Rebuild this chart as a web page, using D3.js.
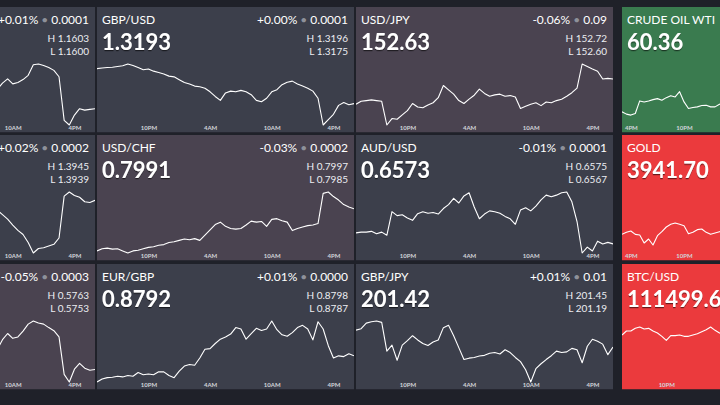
<!DOCTYPE html>
<html lang="en">
<head>
<meta charset="UTF-8" />
<title>Markets board</title>
<script src="https://d3js.org/d3.v7.min.js"></script>
<style>
  html, body { margin: 0; padding: 0; background: #1f2129; }
  svg { display: block; font-family: Lato, "Open Sans", sans-serif; }
  .sym { font-size: 12px; fill: #fff; }
  .price { font-size: 22px; font-weight: 700; fill: #fff; }
  .chg { font-size: 12px; fill: #fff; text-anchor: end; }
  .chg .dot { fill: #8e919a; }
  .hl { font-size: 10px; fill: #eceef2; text-anchor: end; }
  .axis text { font-family: Lato, sans-serif; font-size: 6px; font-weight: 700; fill: #d2d4da; }
</style>
</head>
<body>
<svg width="720" height="405"></svg>
<script>
// tiles, column by column (the left column is cut off by the window)
const symbols = ["EUR/USD", "USD/CAD", "NZD/USD", "GBP/USD", "USD/CHF", "EUR/GBP",
                 "USD/JPY", "AUD/USD", "GBP/JPY", "CRUDE OIL WTI", "GOLD", "BTC/USD"];
const lastPrices = [null, null, null, "1.3193", "0.7991", "0.8792",
                    "152.63", "0.6573", "201.42", "60.36", "3941.70", "111499.6"];
const changes = ["+0.01%", "+0.02%", "-0.05%", "+0.00%", "-0.03%", "+0.01%",
                 "-0.06%", "-0.01%", "+0.01%", null, null, null];
const changeAbs = ["0.0001", "0.0002", "0.0003", "0.0001", "0.0002", "0.0000",
                   "0.09", "0.0001", "0.01", null, null, null];
const highs = ["1.1603", "1.3945", "0.5763", "1.3196", "0.7997", "0.8798",
               "152.72", "0.6575", "201.45", null, null, null];
const lows = ["1.1600", "1.3939", "0.5753", "1.3175", "0.7985", "0.8787",
              "152.60", "0.6567", "201.19", null, null, null];
const tones = ["flat", "flat", "down", "flat", "down", "flat",
               "down", "flat", "flat", "up", "fall", "fall"];

// time window of each chart and first sample, in hours from midnight of day 0
const windows = [[17, 42], [17, 42], [17, 42], [17, 42], [17, 42], [17, 42],
                 [17, 42], [17, 42], [17, 42], [15, 44], [15, 44], [17, 46]];
const firstSample = [32.5, 32.5, 32.5, 17, 17, 17, 17, 17, 17, 15, 15, 17];

// 30 minute samples
const eurusd = [1.16062, 1.16080, 1.16092, 1.16078, 1.16082, 1.16090, 1.16102, 1.16132, 1.16134, 1.16130,
                1.16124, 1.16116, 1.16098, 1.15975, 1.15962, 1.15990, 1.16008, 1.16004, 1.16006, 1.16008];
const usdcad = [1.39388, 1.39375, 1.39362, 1.39345, 1.39330, 1.39318, 1.39295, 1.39265, 1.39278, 1.39280,
                1.39285, 1.39290, 1.39308, 1.39428, 1.39440, 1.39430, 1.39425, 1.39412, 1.39410, 1.39416];
const nzdusd = [0.57617, 0.57645, 0.57663, 0.57649, 0.57653, 0.57670, 0.57690, 0.57699, 0.57693, 0.57690,
                0.57680, 0.57671, 0.57653, 0.57545, 0.57523, 0.57560, 0.57577, 0.57563, 0.57557, 0.57559];
const gbpusd = [1.32023, 1.32025, 1.32026, 1.32027, 1.32029, 1.32031, 1.32036, 1.32032, 1.32026, 1.32020,
                1.32022, 1.32016, 1.32012, 1.32008, 1.32002, 1.32000, 1.31992, 1.31984, 1.31980, 1.31974,
                1.31972, 1.31968, 1.31958, 1.31945, 1.31934, 1.31955, 1.31960, 1.31958, 1.31962, 1.31958,
                1.31950, 1.31934, 1.31930, 1.31940, 1.31958, 1.31964, 1.31978, 1.31985, 1.31988, 1.31980,
                1.31974, 1.31968, 1.31960, 1.31940, 1.31865, 1.31880, 1.31895, 1.31920, 1.31928, 1.31922,
                1.31925];
const usdchf = [0.79790, 0.79796, 0.79798, 0.79795, 0.79796, 0.79790, 0.79784, 0.79790, 0.79792, 0.79796,
                0.79800, 0.79802, 0.79806, 0.79808, 0.79814, 0.79816, 0.79820, 0.79824, 0.79822, 0.79825,
                0.79820, 0.79835, 0.79850, 0.79865, 0.79872, 0.79860, 0.79854, 0.79852, 0.79854, 0.79864,
                0.79875, 0.79872, 0.79874, 0.79860, 0.79880, 0.79882, 0.79876, 0.79872, 0.79848, 0.79854,
                0.79858, 0.79862, 0.79864, 0.79868, 0.79954, 0.79958, 0.79945, 0.79935, 0.79922, 0.79915,
                0.79910];
const eurgbp = [0.87848, 0.87856, 0.87860, 0.87861, 0.87864, 0.87862, 0.87866, 0.87864, 0.87874, 0.87868,
                0.87870, 0.87868, 0.87876, 0.87876, 0.87866, 0.87860, 0.87878, 0.87892, 0.87896, 0.87894,
                0.87914, 0.87938, 0.87940, 0.87954, 0.87966, 0.87972, 0.87980, 0.87998, 0.87994, 0.87966,
                0.87981, 0.87996, 0.87990, 0.87994, 0.88016, 0.87992, 0.87978, 0.87974, 0.87984, 0.87998,
                0.88004, 0.87994, 0.87964, 0.88014, 0.87994, 0.87948, 0.87914, 0.87920, 0.87918, 0.87926,
                0.87920];
const usdjpy = [152.560, 152.568, 152.570, 152.572, 152.570, 152.568, 152.502, 152.520, 152.518, 152.530,
                152.542, 152.562, 152.552, 152.550, 152.558, 152.564, 152.578, 152.612, 152.600, 152.588,
                152.570, 152.562, 152.574, 152.585, 152.602, 152.590, 152.582, 152.586, 152.588, 152.582,
                152.584, 152.580, 152.548, 152.554, 152.560, 152.564, 152.556, 152.566, 152.564, 152.570,
                152.574, 152.582, 152.592, 152.605, 152.672, 152.665, 152.658, 152.652, 152.630, 152.632,
                152.630];
const audusd = [0.65758, 0.65760, 0.65760, 0.65762, 0.65756, 0.65760, 0.65752, 0.65812, 0.65802, 0.65804,
                0.65796, 0.65790, 0.65807, 0.65812, 0.65808, 0.65810, 0.65806, 0.65820, 0.65830, 0.65846,
                0.65834, 0.65852, 0.65860, 0.65824, 0.65794, 0.65806, 0.65814, 0.65812, 0.65808, 0.65800,
                0.65794, 0.65780, 0.65816, 0.65822, 0.65814, 0.65826, 0.65842, 0.65854, 0.65850, 0.65854,
                0.65860, 0.65862, 0.65837, 0.65787, 0.65707, 0.65722, 0.65712, 0.65737, 0.65730, 0.65734,
                0.65730];
const gbpjpy = [201.468, 201.472, 201.488, 201.492, 201.494, 201.490, 201.408, 201.425, 201.382, 201.425,
                201.438, 201.452, 201.440, 201.430, 201.424, 201.434, 201.440, 201.475, 201.482, 201.452,
                201.418, 201.384, 201.388, 201.390, 201.394, 201.396, 201.402, 201.404, 201.400, 201.412,
                201.404, 201.390, 201.378, 201.355, 201.320, 201.358, 201.372, 201.384, 201.395, 201.408,
                201.404, 201.406, 201.416, 201.412, 201.375, 201.422, 201.442, 201.436, 201.428, 201.398,
                201.420];
const crude = [60.330, 60.316, 60.310, 60.320, 60.396, 60.390, 60.396, 60.404, 60.410, 60.400,
               60.416, 60.428, 60.420, 60.452, 60.390, 60.350, 60.356, 60.360, 60.368, 60.370,
               60.360, 60.360, 60.376, 60.384];
const gold = [3940.4, 3941.6, 3942.4, 3940.4, 3940.0, 3935.2, 3937.6, 3934.0, 3939.6, 3942.0,
              3944.8, 3946.4, 3947.2, 3946.4, 3945.6, 3940.8, 3941.6, 3943.2, 3943.6, 3941.6,
              3940.4, 3941.2, 3942.0, 3941.6];
const btcusd = [111450, 111510, 111510, 111550, 111570, 111540, 111550, 111510, 111480, 111430,
                111370, 111440, 111440, 111450, 111430, 111430, 111450, 111470, 111500, 111530,
                111570, 111520, 111480, 111470];

const series = [eurusd, usdcad, nzdusd, gbpusd, usdchf, eurgbp, usdjpy, audusd, gbpjpy, crude, gold, btcusd];
// price range of the charts whose full line runs past the window
const priceRanges = [null, null, null, null, null, null, null, null, null,
                     [60.25, 60.62], [3929.2, 3965.8], [110745, 111660]];

const width = 720;
const colLeft = [-162, 97, 356, 622];
const rowTop = [7, 135, 264];
const tileW = 257, tileH = 125.5;
const plotTop = 57, plotBottom = 118;

const toneColor = d3.scaleOrdinal()
  .domain(["flat", "down", "up", "fall"])
  .range(["#3c3f4b", "#4a4350", "#3a7b4f", "#eb3a3d"]);

const day0 = new Date(2025, 9, 27);
const at = h => d3.timeMinute.offset(day0, Math.round(h * 60));
const fmtHour = d3.timeFormat("%-I%p");

const svg = d3.select("svg");
const defs = svg.append("defs");
defs.append("filter")
    .attr("id", "shadow")
    .attr("x", "-10%").attr("y", "-20%").attr("width", "120%").attr("height", "150%")
  .append("feDropShadow")
    .attr("dx", 0).attr("dy", 1.2)
    .attr("stdDeviation", 0.6)
    .attr("flood-color", "#000")
    .attr("flood-opacity", 0.55);

symbols.forEach((sym, k) => {
  const col = Math.floor(k / 3), row = k % 3;
  const left = colLeft[col];

  defs.append("clipPath").attr("id", "clip" + k)
    .append("rect").attr("width", tileW).attr("height", tileH);

  const g = svg.append("g")
    .attr("transform", `translate(${left},${rowTop[row]})`)
    .attr("clip-path", `url(#clip${k})`);

  g.append("rect")
    .attr("width", tileW)
    .attr("height", tileH)
    .attr("fill", toneColor(tones[k]));

  const x = d3.scaleTime()
    .domain([at(windows[k][0]), at(windows[k][1])])
    .range([0, tileW]);

  const points = series[k].map((v, i) => ({ t: at(firstSample[k] + i * 0.5), v }));

  const y = d3.scaleLinear()
    .domain(priceRanges[k] || d3.extent(points, d => d.v))
    .range([plotBottom, plotTop]);

  const line = d3.line()
    .x(d => x(d.t))
    .y(d => y(d.v));

  g.append("path")
    .datum(points)
    .attr("d", line)
    .attr("fill", "none")
    .attr("stroke", "#fff")
    .attr("stroke-width", 1.1)
    .attr("stroke-linejoin", "round");

  // hour labels every 6h, only those that land inside the tile and the window
  const ticks = d3.timeHour.range(x.domain()[0], x.domain()[1])
    .filter(d => d.getHours() % 6 === 4)
    .filter(d => x(d) > 4 && x(d) < tileW - 6)
    .filter(d => left + x(d) > 6 && left + x(d) < width - 8);

  const axis = g.append("g")
    .attr("class", "axis")
    .attr("transform", `translate(0,${tileH - 2.5})`)
    .call(d3.axisBottom(x).tickValues(ticks).tickFormat(fmtHour).tickSize(0));
  axis.select(".domain").remove();
  axis.selectAll("text").attr("y", 0).attr("dy", null);

  // name and last price sit at the tile's left edge: skip them where that edge is off screen
  if (left >= 0) {
    g.append("text").attr("class", "sym").attr("x", 5).attr("y", 17).text(sym);
    if (lastPrices[k]) {
      g.append("text").attr("class", "price")
        .attr("x", 5).attr("y", 43)
        .attr("filter", "url(#shadow)")
        .text(lastPrices[k]);
    }
  }

  if (changes[k]) {
    const c = g.append("text").attr("class", "chg").attr("x", tileW - 6).attr("y", 17);
    c.append("tspan").text(changes[k]);
    c.append("tspan").attr("class", "dot").text(" \u2022 ");
    c.append("tspan").text(changeAbs[k]);
  }

  if (highs[k]) {
    g.append("text").attr("class", "hl").attr("x", tileW - 6).attr("y", 35).text("H " + highs[k]);
    g.append("text").attr("class", "hl").attr("x", tileW - 6).attr("y", 47.5).text("L  " + lows[k]);
  }
});
</script>
</body>
</html>
